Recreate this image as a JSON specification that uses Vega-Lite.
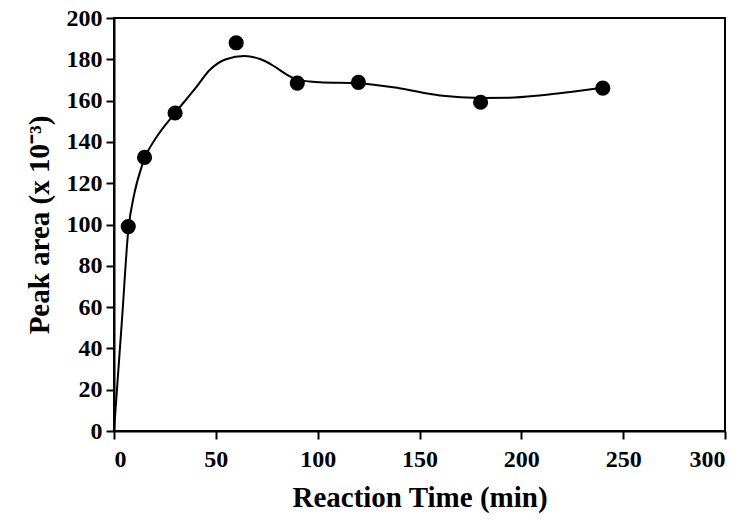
{
  "$schema": "https://vega.github.io/schema/vega-lite/v6.json",
  "autosize": "none",
  "width": 611,
  "height": 413,
  "padding": {"left": 114, "top": 18, "right": 25, "bottom": 90},
  "background": "white",
  "config": {
    "view": {"stroke": "black", "strokeWidth": 2},
    "axis": {
      "grid": false,
      "domainColor": "black",
      "domainWidth": 2,
      "tickColor": "black",
      "tickWidth": 2,
      "tickSize": 8,
      "labelFont": "Liberation Serif",
      "labelFontWeight": "bold",
      "labelFontSize": 24,
      "labelColor": "black",
      "titleFont": "Liberation Serif",
      "titleFontWeight": "bold",
      "titleFontSize": 29,
      "titleColor": "black"
    }
  },
  "datasets": {
    "points": [
      {"time": 7, "area": 99},
      {"time": 15, "area": 132.5},
      {"time": 30, "area": 154},
      {"time": 60, "area": 188},
      {"time": 90, "area": 168.5},
      {"time": 120, "area": 168.8},
      {"time": 180, "area": 159.2},
      {"time": 240, "area": 166}
    ],
    "curve": [
      {"time": 0, "area": 0},
      {"time": 4, "area": 55},
      {"time": 7, "area": 97},
      {"time": 10, "area": 115},
      {"time": 13.6, "area": 128},
      {"time": 15, "area": 132},
      {"time": 20, "area": 141},
      {"time": 30, "area": 154},
      {"time": 40, "area": 166},
      {"time": 47, "area": 174.8},
      {"time": 55, "area": 180},
      {"time": 64, "area": 181.6},
      {"time": 72, "area": 180},
      {"time": 78, "area": 177},
      {"time": 85, "area": 172.5},
      {"time": 90, "area": 170},
      {"time": 96, "area": 169.3},
      {"time": 101, "area": 168.9},
      {"time": 120, "area": 168.4},
      {"time": 140, "area": 166},
      {"time": 160, "area": 162.5},
      {"time": 180, "area": 161.3},
      {"time": 194, "area": 161.4},
      {"time": 210, "area": 162.6},
      {"time": 225, "area": 164.3},
      {"time": 240, "area": 166.2}
    ]
  },
  "layer": [
    {
      "data": {"name": "curve"},
      "mark": {"type": "line", "color": "black", "strokeWidth": 2, "interpolate": "monotone"},
      "encoding": {
        "x": {"field": "time", "type": "quantitative", "scale": {"domain": [0, 300], "nice": false},
              "axis": {"values": [0, 50, 100, 150, 200, 250, 300], "title": "Reaction Time (min)", "labelPadding": 8, "titlePadding": 12}},
        "y": {"field": "area", "type": "quantitative", "scale": {"domain": [0, 200], "nice": false},
              "axis": {"values": [0, 20, 40, 60, 80, 100, 120, 140, 160, 180, 200], "title": "Peak area (x 10⁻³)", "labelPadding": 4, "titlePadding": 12}}
      }
    },
    {
      "data": {"name": "points"},
      "mark": {"type": "point", "filled": true, "shape": "circle", "color": "black", "size": 230, "opacity": 1},
      "encoding": {
        "x": {"field": "time", "type": "quantitative"},
        "y": {"field": "area", "type": "quantitative"}
      }
    }
  ]
}
